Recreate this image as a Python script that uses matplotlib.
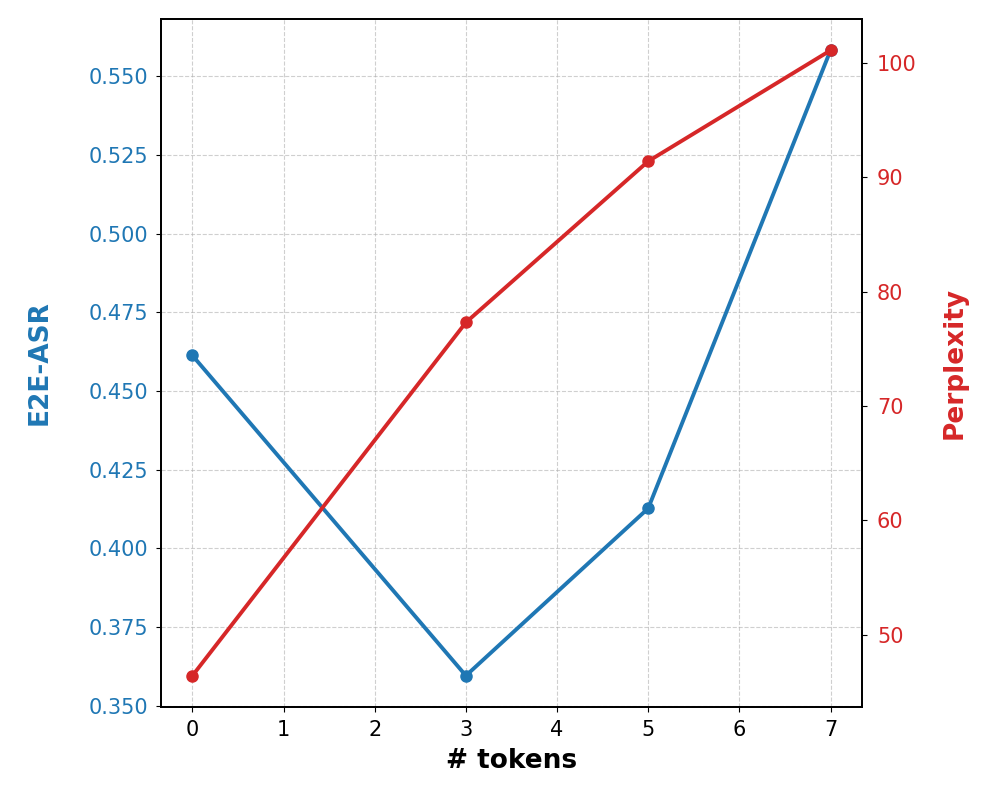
import matplotlib
matplotlib.use("Agg")
import matplotlib.pyplot as plt

tokens = [0, 3, 5, 7]
e2e_asr = [0.4613, 0.3595, 0.4127, 0.5583]
perplexity = [46.4, 77.3, 91.4, 101.1]

blue = "#1f77b4"
red = "#d62728"

fig, ax1 = plt.subplots(figsize=(9.97, 7.97), dpi=100)
fig.subplots_adjust(left=0.161, right=0.865, top=0.976, bottom=0.113)

ax1.plot(tokens, e2e_asr, color=blue, marker="o", linewidth=2.8, markersize=8)
ax1.set_xlabel("# tokens", fontsize=19, fontweight="bold", labelpad=6)
ax1.set_ylabel("E2E-ASR", fontsize=19, fontweight="bold", color=blue, labelpad=26)
ax1.tick_params(axis="y", labelcolor=blue, labelsize=15, pad=5)
ax1.tick_params(axis="x", labelsize=15, pad=6)
ax1.set_xticks(range(0, 8))
ax1.grid(True, linestyle="--", alpha=0.6)

ax2 = ax1.twinx()
ax2.plot(tokens, perplexity, color=red, marker="o", linewidth=2.8, markersize=8)
ax2.set_ylabel("Perplexity", fontsize=19, fontweight="bold", color=red, labelpad=18)
ax2.tick_params(axis="y", labelcolor=red, labelsize=15, pad=7)

for ax in (ax1, ax2):
    for s in ax.spines.values():
        s.set_linewidth(1.3)

fig.savefig("out.png", dpi=100)
